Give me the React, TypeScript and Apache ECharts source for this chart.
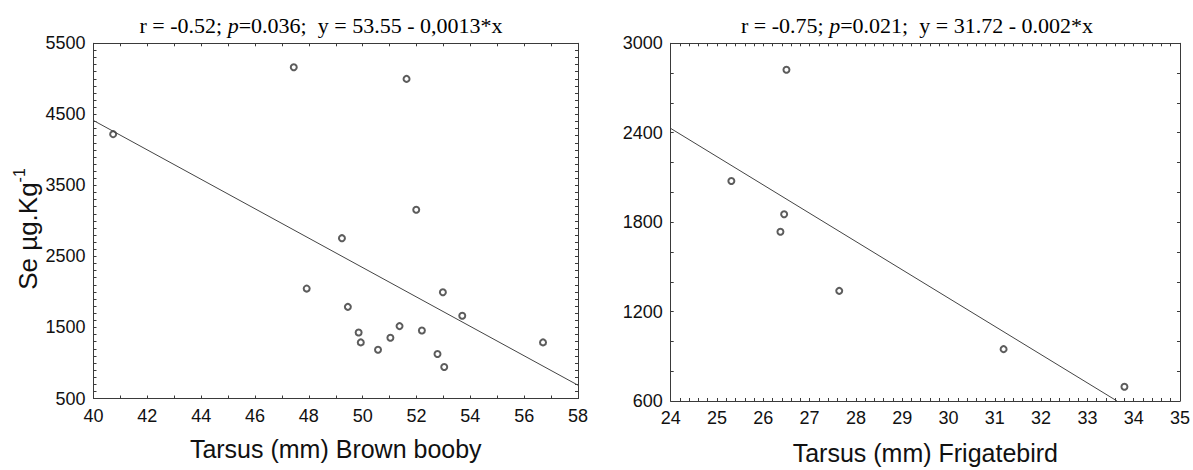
import React, { useEffect, useRef } from "react";
import * as echarts from "echarts";

// Brown booby: tarsus (mm) vs Se (µg/kg)
const boobyTarsus = [47.44, 51.63, 40.73, 51.99, 49.23, 47.92, 49.45, 49.85, 49.93, 50.57, 51.03, 51.37, 52.2, 52.98, 52.78, 53.03, 53.7, 56.7];
const boobySe = [5163, 4999, 4221, 3158, 2757, 2047, 1790, 1430, 1290, 1187, 1355, 1519, 1458, 1995, 1126, 944, 1664, 1290];
const boobyFitX = [40, 58];
const boobyFitY = [4413, 687];

// Frigatebird
const frigateTarsus = [26.5, 25.31, 26.45, 26.37, 27.64, 31.19, 33.8];
const frigateSe = [2822, 2076, 1853, 1736, 1339, 948, 696];
const frigateFitX = [24, 33.64];
const frigateFitY = [2429, 600];

const boobyTitle = "r = -0.52; {i|p}=0.036;  y = 53.55 - 0,0013*x";
const frigateTitle = "r = -0.75; {i|p}=0.021;  y = 31.72 - 0.002*x";
const boobyXName = "Tarsus (mm) Brown booby";
const frigateXName = "Tarsus (mm) Frigatebird";
const yName = "{b|Se µg.Kg}{s|-1}";

const SANS = '"Liberation Sans", Arial, sans-serif';
const SERIF = '"Liberation Serif", "Times New Roman", serif';
const AX = "#3a3a3a";

function pairs(xs: number[], ys: number[]) {
  return xs.map((x, i) => [x, ys[i]]);
}

function makeAxis(
  gridIndex: number,
  position: string,
  min: number,
  max: number,
  interval: number,
  minorSplit: number,
  showLabel: boolean,
  extra: any = {}
) {
  return {
    type: "value",
    gridIndex,
    position,
    min,
    max,
    interval,
    axisLine: { show: true, onZero: false, lineStyle: { color: AX, width: 1 } },
    axisTick: { show: true, inside: true, length: 3, lineStyle: { color: AX, width: 1 } },
    minorTick: { show: true, splitNumber: minorSplit, length: 3, lineStyle: { color: AX, width: 1 } },
    splitLine: { show: false },
    minorSplitLine: { show: false },
    axisLabel: {
      show: showLabel,
      color: "#111",
      fontFamily: SANS,
      fontSize: 18,
      margin: 8,
      formatter: (v: number) => String(v),
    },
    ...extra,
  };
}

export default function App() {
  const ref = useRef<HTMLDivElement>(null);
  useEffect(() => {
    if (!ref.current) return;
    const chart = echarts.init(ref.current, undefined, { renderer: "svg" });
    const xName = (name: string, gap: number) => ({
      name,
      nameLocation: "middle",
      nameGap: gap,
      nameTextStyle: { fontFamily: SANS, fontSize: 25, color: "#111" },
    });
    const titleStyle = (text: string) => ({
      text,
      fontFamily: SERIF,
      fontSize: 22,
      fill: "#000",
      align: "center",
      verticalAlign: "middle",
      rich: { i: { fontFamily: SERIF, fontSize: 22, fontStyle: "italic", fill: "#000" } },
    });
    chart.setOption({
      animation: false,
      backgroundColor: "#fff",
      grid: [
        { left: 93.5, top: 43.3, width: 484.5, height: 355.2 },
        { left: 670.7, top: 43.3, width: 512, height: 359.7 },
      ],
      xAxis: [
        makeAxis(0, "bottom", 40, 58, 2, 2, true, xName(boobyXName, 38)),
        makeAxis(0, "top", 40, 58, 2, 2, false),
        makeAxis(1, "bottom", 24, 35, 1, 5, true, xName(frigateXName, 39)),
        makeAxis(1, "top", 24, 35, 1, 5, false),
      ],
      yAxis: [
        makeAxis(0, "left", 500, 5500, 1000, 10, true),
        makeAxis(0, "right", 500, 5500, 1000, 10, false),
        makeAxis(1, "left", 600, 3000, 600, 3, true),
        makeAxis(1, "right", 600, 3000, 600, 3, false),
      ],
      graphic: [
        { type: "text", x: 321, y: 25, style: titleStyle(boobyTitle) },
        { type: "text", x: 917, y: 25, style: titleStyle(frigateTitle) },
        {
          type: "text",
          x: 26,
          y: 229,
          rotation: Math.PI / 2,
          style: {
            text: yName,
            fontFamily: SANS,
            fontSize: 26,
            fill: "#111",
            align: "center",
            verticalAlign: "middle",
            rich: {
              b: { fontFamily: SANS, fontSize: 26, fill: "#111", verticalAlign: "bottom", lineHeight: 30 },
              s: { fontFamily: SANS, fontSize: 16, fill: "#111", verticalAlign: "top", lineHeight: 30 },
            },
          },
        },
      ],
      series: [
        {
          type: "scatter",
          xAxisIndex: 0,
          yAxisIndex: 0,
          symbol: "emptyCircle",
          symbolSize: 6,
          itemStyle: { color: "#333", borderColor: "#333", borderWidth: 1 },
          data: pairs(boobyTarsus, boobySe),
        },
        {
          type: "line",
          xAxisIndex: 0,
          yAxisIndex: 0,
          showSymbol: false,
          lineStyle: { color: "#444", width: 1 },
          data: pairs(boobyFitX, boobyFitY),
        },
        {
          type: "scatter",
          xAxisIndex: 2,
          yAxisIndex: 2,
          symbol: "emptyCircle",
          symbolSize: 6,
          itemStyle: { color: "#333", borderColor: "#333", borderWidth: 1 },
          data: pairs(frigateTarsus, frigateSe),
        },
        {
          type: "line",
          xAxisIndex: 2,
          yAxisIndex: 2,
          showSymbol: false,
          lineStyle: { color: "#444", width: 1 },
          data: pairs(frigateFitX, frigateFitY),
        },
      ],
    });
    return () => chart.dispose();
  }, []);
  return (
    <div
      ref={ref}
      style={{ position: "absolute", left: 0, top: 0, width: 1193, height: 470 }}
    />
  );
}
